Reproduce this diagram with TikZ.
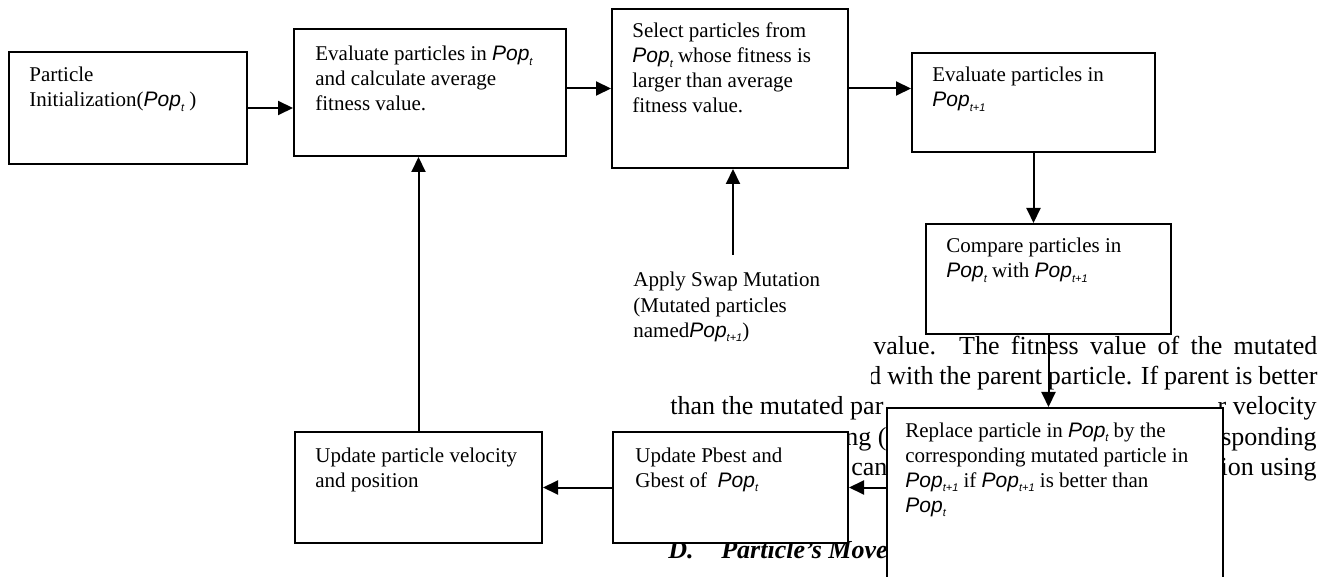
\documentclass[tikz,border=0pt]{standalone}
\usepackage{fontspec}
\setmainfont{Liberation Serif}
\newfontfamily\popfont{Liberation Sans}
\usetikzlibrary{arrows.meta,calc}
% population symbol with a small subscript
\newcommand{\pop}[1]{{\popfont\itshape Pop\raisebox{-0.45ex}{\fontsize{5.5}{5.5}\selectfont #1}}}

\begin{document}
\begin{tikzpicture}[x=0.5pt,y=-0.5pt,
  box/.style={draw, line width=1pt, fill=white, inner sep=0pt, anchor=north west},
  btxt/.style={anchor=base west, align=left, inner sep=0pt, font=\fontsize{10.5}{12.5}\selectfont},
  para/.style={anchor=base west, inner sep=0pt, font=\fontsize{13}{15}\selectfont},
  head/.style={para, font=\fontsize{13}{15}\selectfont\bfseries\itshape},
  arr/.style={-{Triangle[length=7.5pt,width=7pt]}, line width=1pt}]
\useasboundingbox (0,0) rectangle (1334,577);
\clip (0,0) rectangle (1334,577);

% running text of the page behind the chart
\node[para] (p1) at (873,355) {\makebox[222pt][s]{value. The fitness value of the mutated}};
\node[para] (p2) at (868,385) {\makebox[224.5pt][s]{d with the parent particle. If parent is better}};
\node[para] (p3a) at (670,415) {than the mutated par};
\node[para, anchor=base east] (p3b) at (1317,415) {r velocity};
\node[para] (p4a) at (845,445) {ng (};
\node[para, anchor=base east] (p4b) at (1317,445) {sponding};
\node[para] (p5a) at (851,475) {can};
\node[para, anchor=base east] (p5b) at (1317,475) {ion using};
\node[head] (hd1) at (668,558) {D.};
\node[head, anchor=base east] (hd2) at (888,558) {Particle’s Move};

% white text frame of the mutation note (base anchor sits on the last line)
\node[fill=white, inner sep=0pt, anchor=north west, minimum width=125.5pt, minimum height=63pt] (swpbox) at (620,262) {};
\node[btxt] (swpt) at (633,337) {Apply Swap Mutation\\(Mutated particles\\named\pop{t+1})};
\coordinate (swp) at (733,255);

% process boxes
\node[box, minimum width=119pt, minimum height=56pt] (b1) at (8,51) {};
\node[box, minimum width=136pt, minimum height=63.5pt] (b2) at (293,28) {};
\node[box, minimum width=118pt, minimum height=79.5pt] (b3) at (611,8) {};
\node[box, minimum width=121.5pt, minimum height=49.5pt] (b4) at (911,52) {};
\node[box, minimum width=122.5pt, minimum height=55pt] (cmp) at (925,223) {};
\node[box, minimum width=168pt, minimum height=100pt] (rep) at (886,407) {};
\node[box, minimum width=117.5pt, minimum height=55.5pt] (pb) at (612,431) {};
\node[box, minimum width=123.5pt, minimum height=55.5pt] (vel) at (294,431) {};

% box texts, placed by the baseline of their last line
\node[btxt] (b1t) at ($(b1.north west)+(21,56)$) {Particle\\Initialization(\pop{t} )};
\node[btxt] (b2t) at ($(b2.north west)+(22,83)$) {Evaluate particles in \pop{t}\\and calculate average\\fitness value.};
\node[btxt] (b3t) at ($(b3.north west)+(21,105)$) {Select particles from\\\pop{t} whose fitness is\\larger than average\\fitness value.};
\node[btxt] (b4t) at ($(b4.north west)+(21,55)$) {Evaluate particles in\\\pop{t+1}};
\node[btxt] (cmpt) at ($(cmp.north west)+(21,55)$) {Compare particles in\\\pop{t} with \pop{t+1}};
\node[btxt] (rept) at ($(rep.north west)+(19,105)$) {Replace particle in \pop{t} by the\\corresponding mutated particle in\\\pop{t+1} if \pop{t+1} is better than\\\pop{t}};
\node[btxt] (pbt) at ($(pb.north west)+(23,56)$) {Update Pbest and\\Gbest of~ \pop{t}};
\node[btxt] (velt) at ($(vel.north west)+(21,56)$) {Update particle velocity\\and position};

% connectors
\draw[arr] (b1.east) -- (b1.east -| b2.west);
\draw[arr] (b3.west -| b2.east) -- (b3.west);
\draw[arr] (b3.east) -- (b3.east -| b4.west);
\draw[arr] (b4.south) -- (b4.south |- cmp.north);
\draw[arr] (cmp.south) -- (cmp.south |- rep.north);
\draw[arr] (rep.west |- pb.east) -- (pb.east);
\draw[arr] (pb.west) -- (pb.west -| vel.east);
\draw[arr] (vel.north) -- (vel.north |- b2.south);
\draw[arr] (swp) -- (swp |- b3.south);
\end{tikzpicture}
\end{document}
